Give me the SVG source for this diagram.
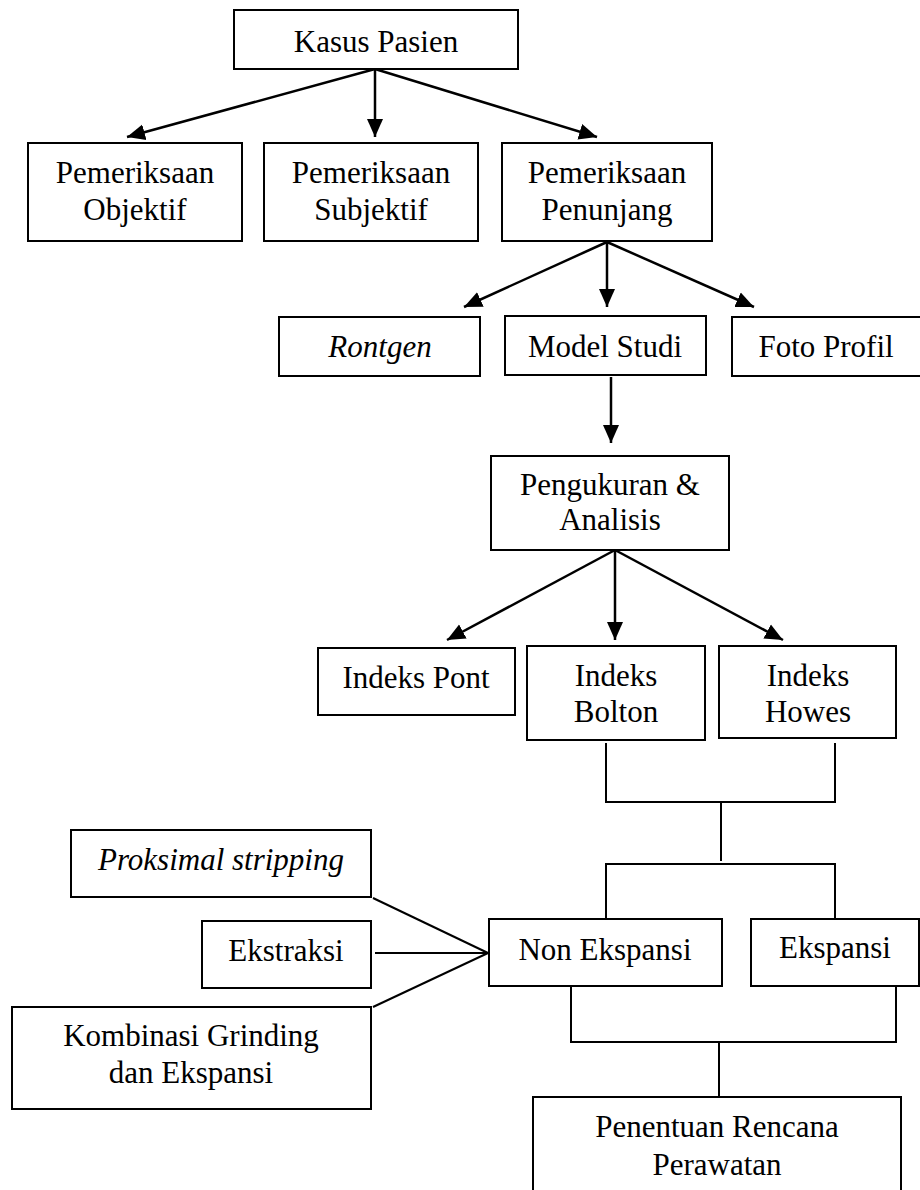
<svg xmlns="http://www.w3.org/2000/svg" width="920" height="1190" viewBox="0 0 920 1190">
<style>
.box{fill:#fff;stroke:#000;stroke-width:2}
.t{font-family:"Liberation Serif","Times New Roman",serif;font-size:31px;fill:#000;text-anchor:middle}
.i{font-style:italic}
.c{fill:none;stroke:#000;stroke-width:2}
.a{fill:none;stroke:#000;stroke-width:2.5;marker-end:url(#ah)}
</style>
<defs>
<marker id="ah" markerUnits="userSpaceOnUse" markerWidth="20" markerHeight="20" viewBox="0 0 20 20" refX="18" refY="10" orient="auto">
<path d="M0,2 L18,10 L0,18 Z" fill="#000"/>
</marker>
</defs>
<rect width="920" height="1190" fill="#fff"/>
<g id="connectors">
<line class="a" x1="375" y1="69" x2="127" y2="137"/>
<line class="a" x1="375" y1="69" x2="375" y2="137"/>
<line class="a" x1="375" y1="69" x2="597" y2="137"/>
<line class="a" x1="607" y1="242" x2="464" y2="307"/>
<line class="a" x1="607" y1="242" x2="607" y2="307"/>
<line class="a" x1="607" y1="242" x2="754" y2="307"/>
<line class="a" x1="611" y1="377" x2="611" y2="443"/>
<line class="a" x1="615" y1="550" x2="447" y2="640"/>
<line class="a" x1="615" y1="550" x2="615" y2="640"/>
<line class="a" x1="615" y1="550" x2="783" y2="640"/>
<polyline class="c" points="606,743 606,802 835,802 835,743"/>
<line class="c" x1="721" y1="802" x2="721" y2="861"/>
<polyline class="c" points="606,918 606,864 835,864 835,918"/>
<line class="c" x1="373" y1="898" x2="488" y2="953"/>
<line class="c" x1="375" y1="953" x2="488" y2="953"/>
<line class="c" x1="373" y1="1007" x2="488" y2="953"/>
<polyline class="c" points="571,987 571,1042 896,1042 896,987"/>
<line class="c" x1="719" y1="1042" x2="719" y2="1097"/>
</g>
<g id="kasus"><rect class="box" x="234" y="10" width="284" height="59"/><text class="t" x="376" y="52">Kasus Pasien</text></g>
<g id="objektif"><rect class="box" x="28" y="143" width="214" height="98"/><text class="t" x="135" y="183">Pemeriksaan</text><text class="t" x="135" y="220">Objektif</text></g>
<g id="subjektif"><rect class="box" x="264" y="143" width="214" height="98"/><text class="t" x="371" y="183">Pemeriksaan</text><text class="t" x="371" y="220">Subjektif</text></g>
<g id="penunjang"><rect class="box" x="502" y="143" width="210" height="98"/><text class="t" x="607" y="183">Pemeriksaan</text><text class="t" x="607" y="220">Penunjang</text></g>
<g id="rontgen"><rect class="box" x="279" y="317" width="201" height="59"/><text class="t i" x="380" y="357">Rontgen</text></g>
<g id="model"><rect class="box" x="505" y="316" width="201" height="59"/><text class="t" x="605" y="357">Model Studi</text></g>
<g id="foto"><rect class="box" x="732" y="317" width="192" height="59"/><text class="t" x="826" y="357">Foto Profil</text></g>
<g id="pengukuran"><rect class="box" x="491" y="456" width="238" height="94"/><text class="t" x="610" y="495">Pengukuran &amp;</text><text class="t" x="610" y="530">Analisis</text></g>
<g id="pont"><rect class="box" x="318" y="648" width="197" height="67"/><text class="t" x="416" y="688">Indeks Pont</text></g>
<g id="bolton"><rect class="box" x="527" y="646" width="178" height="94"/><text class="t" x="616" y="686">Indeks</text><text class="t" x="616" y="722">Bolton</text></g>
<g id="howes"><rect class="box" x="719" y="646" width="177" height="92"/><text class="t" x="808" y="686">Indeks</text><text class="t" x="808" y="722">Howes</text></g>
<g id="proksimal"><rect class="box" x="71" y="830" width="300" height="67"/><text class="t i" x="221" y="870">Proksimal stripping</text></g>
<g id="ekstraksi"><rect class="box" x="202" y="921" width="169" height="67"/><text class="t" x="286" y="961">Ekstraksi</text></g>
<g id="kombinasi"><rect class="box" x="12" y="1007" width="359" height="102"/><text class="t" x="191" y="1046">Kombinasi Grinding</text><text class="t" x="191" y="1083">dan Ekspansi</text></g>
<g id="nonekspansi"><rect class="box" x="489" y="919" width="233" height="67"/><text class="t" x="605" y="960">Non Ekspansi</text></g>
<g id="ekspansi"><rect class="box" x="751" y="919" width="168" height="67"/><text class="t" x="835" y="958">Ekspansi</text></g>
<g id="penentuan"><rect class="box" x="533" y="1097" width="368" height="110"/><text class="t" x="717" y="1137">Penentuan Rencana</text><text class="t" x="717" y="1175">Perawatan</text></g>
</svg>
